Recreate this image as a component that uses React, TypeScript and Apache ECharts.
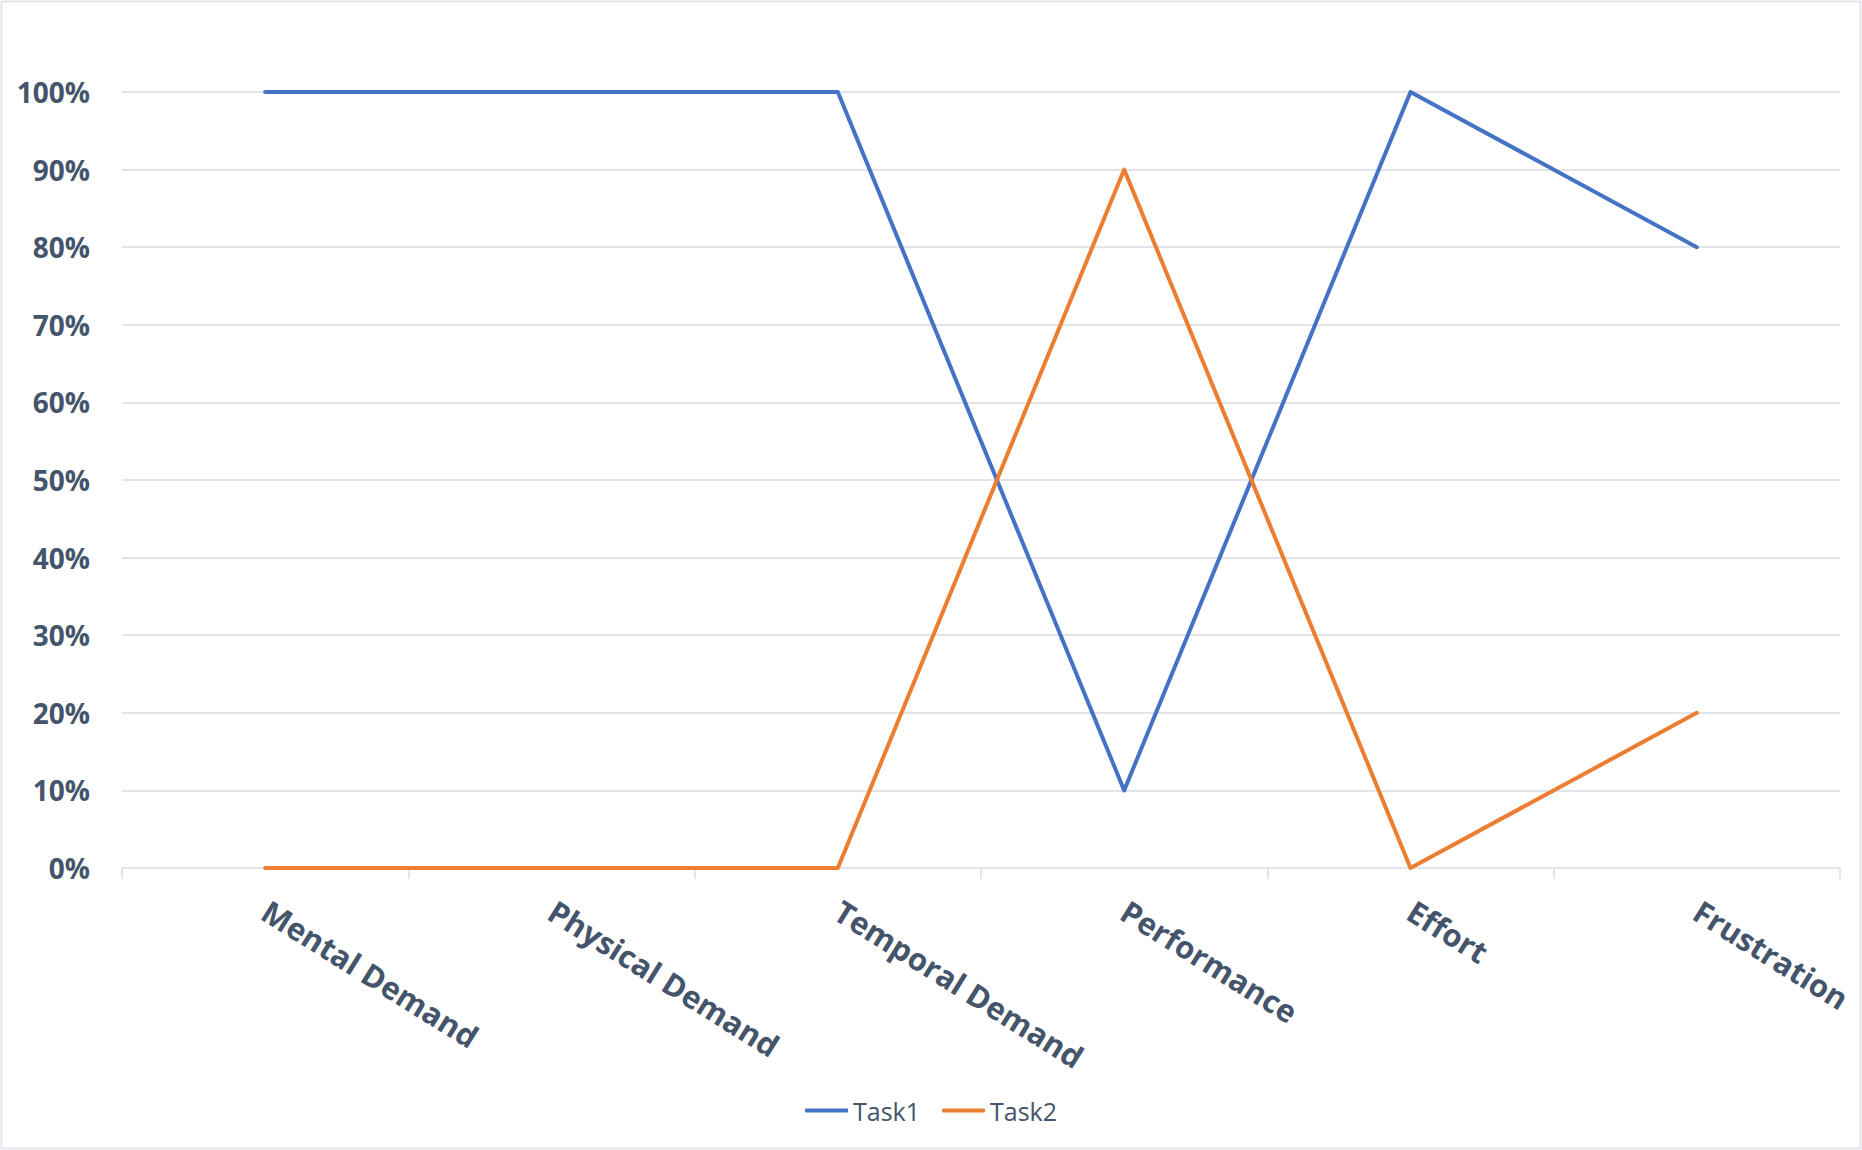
import React, { useEffect, useRef } from "react";
import * as echarts from "echarts";

const categories = ["Mental Demand", "Physical Demand", "Temporal Demand", "Performance", "Effort", "Frustration"];
const task1 = [100, 100, 100, 10, 100, 80];
const task2 = [0, 0, 0, 90, 0, 20];
const seriesNames = ["Task1", "Task2"];
const colors = ["#4472C4", "#ED7D31"];

const textColor = "#44546A";
const gridColor = "#E1E5EB";
const font = "'Open Sans', sans-serif";

export default function App() {
  const ref = useRef<HTMLDivElement>(null);
  useEffect(() => {
    if (!ref.current) return;
    const chart = echarts.init(ref.current, null, { renderer: "svg" });
    chart.setOption({
      animation: false,
      backgroundColor: "#ffffff",
      graphic: [
        {
          type: "rect",
          shape: { x: 1.5, y: 1.5, width: 1859, height: 1147 },
          style: { fill: "none", stroke: "#E1E5EB", lineWidth: 2 },
          silent: true,
          z: 0,
        },
      ],
      grid: { left: 122, right: 22, top: 92, bottom: 282, containLabel: false },
      legend: {
        bottom: 22,
        left: "center",
        icon: "roundRect",
        itemWidth: 43,
        itemHeight: 4,
        itemGap: 22,
        textStyle: { color: textColor, fontSize: 25, fontFamily: font },
        data: seriesNames,
      },
      xAxis: {
        type: "category",
        data: categories,
        boundaryGap: true,
        axisLine: { lineStyle: { color: gridColor, width: 2 } },
        axisTick: { show: true, length: 11, lineStyle: { color: gridColor, width: 2 } },
        axisLabel: {
          rotate: -32,
          margin: 40,
          color: textColor,
          fontSize: 31,
          fontWeight: "bold",
          fontFamily: font,
          interval: 0,
        },
      },
      yAxis: {
        type: "value",
        min: 0,
        max: 100,
        interval: 10,
        axisLine: { show: false },
        axisTick: { show: false },
        splitLine: { lineStyle: { color: gridColor, width: 2 } },
        axisLabel: {
          formatter: "{value}%",
          margin: 32,
          color: textColor,
          fontSize: 28,
          fontWeight: "bold",
          fontFamily: font,
        },
      },
      series: [
        {
          name: seriesNames[0],
          type: "line",
          data: task1,
          symbol: "none",
          lineStyle: { color: colors[0], width: 4, cap: "round", join: "round" },
          itemStyle: { color: colors[0] },
          z: 3,
        },
        {
          name: seriesNames[1],
          type: "line",
          data: task2,
          symbol: "none",
          lineStyle: { color: colors[1], width: 4, cap: "round", join: "round" },
          itemStyle: { color: colors[1] },
          z: 4,
        },
      ],
    });
    return () => chart.dispose();
  }, []);
  return (
    <div
      ref={ref}
      style={{ position: "fixed", left: 0, top: 0, width: 1862, height: 1150 }}
    />
  );
}
